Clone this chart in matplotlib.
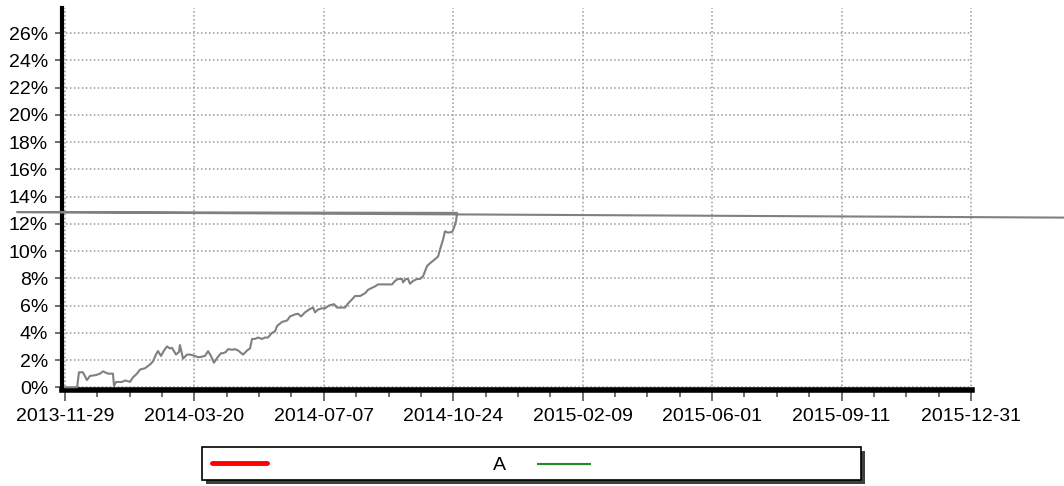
import matplotlib
matplotlib.use("Agg")
import matplotlib.pyplot as plt
from matplotlib.lines import Line2D
from matplotlib.patches import Rectangle
from matplotlib.ticker import MultipleLocator

plt.rcParams['font.family'] = ['Liberation Sans', 'DejaVu Sans']

# x axis: trading days since 2013-11-29, one label every 75 days
tick_days = [0, 75, 150, 225, 300, 375, 450, 525]
tick_dates = ['2013-11-29', '2014-03-20', '2014-07-07', '2014-10-24',
              '2015-02-09', '2015-06-01', '2015-09-11', '2015-12-31']

# cumulative return (%)
days = [0, 7.0, 8.1, 10.4, 12.7, 14.5, 18.0, 20.3, 22.0, 24.9, 27.8, 28.4,
        29.6, 33.0, 34.8, 37.7, 39.4, 41.7, 43.5, 46.4, 49.3, 51.0, 52.7,
        53.9, 55.6, 57.4, 59.1, 60.8, 62.0, 64.3, 66.1, 66.6, 68.4, 70.7,
        72.4, 75.3, 77.1, 79.4, 81.1, 82.9, 84.6, 86.3, 88.1, 90.4, 91.6,
        93.3, 94.5, 96.8, 98.5, 100.3, 103.2, 105.5, 107.2, 108.4, 110.1,
        111.8, 114.2, 115.9, 117.6, 120.0, 121.7, 122.9, 125.8, 128.7,
        130.4, 133.3, 135.0, 136.8, 139.1, 142.0, 143.7, 144.9, 146.6,
        148.9, 150.7, 153.0, 155.9, 157.6, 162.3, 164.0, 166.3, 168.1,
        171.0, 173.9, 175.6, 177.9, 179.6, 181.4, 189.5, 191.2, 193.0,
        195.3, 195.9, 197.6, 198.8, 199.9, 201.7, 204.0, 205.7, 207.5,
        209.8, 211.5, 214.4, 216.2, 217.3, 219.1, 220.2, 221.9, 224.3,
        225.4, 226.6, 227.2]
returns = [0, 0, 1.1, 1.1, 0.53, 0.83, 0.9, 1.0, 1.17, 1.0, 1.0, 0.1,
           0.39, 0.39, 0.5, 0.4, 0.73, 1.0, 1.3, 1.4, 1.68, 1.9, 2.4,
           2.66, 2.3, 2.7, 3.0, 2.85, 2.9, 2.4, 2.6, 3.1, 2.1, 2.4,
           2.4, 2.3, 2.2, 2.25, 2.3, 2.65, 2.3, 1.8, 2.15, 2.5, 2.5,
           2.6, 2.8, 2.75, 2.8, 2.7, 2.4, 2.7, 2.85, 3.55, 3.55,
           3.65, 3.55, 3.65, 3.65, 4.0, 4.1, 4.5, 4.8, 4.9,
           5.2, 5.35, 5.4, 5.2, 5.5, 5.75, 5.85, 5.5, 5.7,
           5.8, 5.8, 6.0, 6.1, 5.85, 5.85, 6.15, 6.45, 6.7,
           6.7, 6.9, 7.15, 7.3, 7.4, 7.55, 7.55, 7.8, 7.95,
           7.95, 7.7, 7.95, 7.95, 7.6, 7.8, 7.95, 7.95, 8.15,
           8.9, 9.1, 9.4, 9.6, 10.1, 10.85, 11.45, 11.35, 11.4,
           11.7, 12.2, 12.8]
# stray closing segment that runs outside the plot area
tail_days = [-27.8, 600]
tail_returns = [12.86, 12.44]

W, H = 1064, 486
fig = plt.figure(figsize=(W / 100, H / 100), dpi=100)
ax = fig.add_axes([62 / W, 96 / H, 910 / W, 382 / H])

ax.plot(days + tail_days, returns + tail_returns, color='#808080', lw=1.5,
        clip_on=False, zorder=3)

ax.set_xlim(-1.74, 525.6)
ax.set_ylim(-0.2, 27.84)
ax.set_xticks(tick_days)
ax.set_xticklabels(tick_dates)
ax.xaxis.set_minor_locator(MultipleLocator(18.75))
yt = list(range(0, 27, 2))
ax.set_yticks(yt)
ax.set_yticklabels([f'{v}%' for v in yt])

ax.grid(which='major', color='#999999', linestyle=(0, (1, 1.6)), lw=1.1)

for s in ('top', 'right'):
    ax.spines[s].set_visible(False)
ax.spines['left'].set_linewidth(3)
ax.spines['bottom'].set_linewidth(4)

ax.tick_params(axis='x', which='major', length=8, width=1.2, color='#555555',
               labelsize=14, pad=5)
ax.tick_params(axis='x', which='minor', length=5, width=1.2, color='#555555')
ax.tick_params(axis='y', length=5, width=1.2, color='#555555',
               labelsize=14, pad=5)


# legend box with drop shadow, drawn in pixel units
def px(x, y):
    return x / W, (H - y) / H


x0, y0 = px(202, 480)
bw, bh = 659 / W, 33 / H
sx, sy = px(206, 484)
fig.add_artist(Rectangle((sx, sy), bw, bh, transform=fig.transFigure,
                         facecolor='#404040', edgecolor='none'))
fig.add_artist(Rectangle((x0, y0), bw, bh, transform=fig.transFigure,
                         facecolor='white', edgecolor='black', lw=1.2))
a, b = px(212, 463)
c, _ = px(267, 463)
fig.add_artist(Line2D([a, c], [b, b], transform=fig.transFigure,
                      color='#ff0000', lw=3.5, solid_capstyle='round'))
a, b = px(538, 464)
c, _ = px(590, 464)
fig.add_artist(Line2D([a, c], [b, b], transform=fig.transFigure,
                      color='#228b22', lw=1.5))
tx, ty = px(499, 465)
fig.text(tx, ty, 'A', ha='center', va='center', fontsize=14)

fig.savefig('out.png', dpi=100)
